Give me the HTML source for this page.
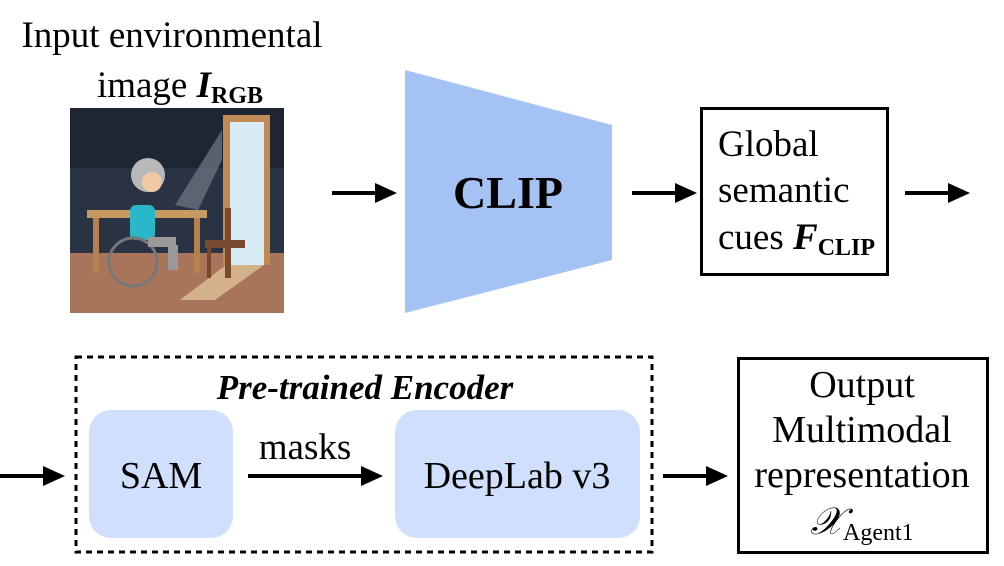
<!DOCTYPE html>
<html><head><meta charset="utf-8"><style>
body{margin:0;background:#fff;width:1004px;height:566px;overflow:hidden}
svg{display:block}
text{font-family:"Liberation Serif",serif;fill:#000}
</style></head><body>
<svg width="1004" height="566" viewBox="0 0 1004 566">
<text x="172" y="47" font-size="37" text-anchor="middle">Input environmental</text>
<text x="180" y="97" font-size="37" text-anchor="middle">image <tspan font-weight="bold" font-style="italic">I</tspan><tspan font-weight="bold" font-size="24" dy="6">RGB</tspan></text>
<g>
<rect x="70" y="108" width="214" height="205" fill="#2a3344"/>
<rect x="70" y="108" width="214" height="60" fill="#1e2533"/>
<rect x="70" y="253" width="214" height="60" fill="#a9755a"/>
<polygon points="222,130 175,205 198,210 222,160" fill="#6f7a85" opacity="0.7"/>
<polygon points="180,300 230,262 268,262 215,300" fill="#d3b28a"/>
<rect x="223" y="115" width="47" height="150" fill="#c08a55"/>
<rect x="230" y="122" width="34" height="143" fill="#d8ecf5"/>
<rect x="87" y="210" width="120" height="8" fill="#c89a63"/>
<rect x="93" y="218" width="6" height="55" fill="#b5824f"/>
<rect x="194" y="218" width="6" height="55" fill="#b5824f"/>
<rect x="205" y="240" width="40" height="8" fill="#7a4a30"/>
<rect x="225" y="208" width="6" height="70" fill="#7a4a30"/>
<rect x="207" y="248" width="4" height="30" fill="#7a4a30"/>
<circle cx="148" cy="175" r="17" fill="#b8b8b8"/>
<circle cx="152" cy="182" r="10" fill="#f2c9a5"/>
<rect x="130" y="205" width="25" height="35" rx="6" fill="#2ab7c9"/>
<circle cx="133" cy="262" r="24" fill="none" stroke="#777" stroke-width="3"/>
<rect x="148" y="237" width="28" height="10" fill="#999"/>
<rect x="168" y="245" width="10" height="25" fill="#999"/>
</g>
<g stroke="#000" stroke-width="4" fill="#000">
<line x1="332" y1="193" x2="378" y2="193"/><polygon points="375,183 397,193 375,203" stroke="none"/>
<line x1="632" y1="193" x2="678" y2="193"/><polygon points="675,183 697,193 675,203" stroke="none"/>
<line x1="905" y1="193" x2="951" y2="193"/><polygon points="948,183 970,193 948,203" stroke="none"/>
<line x1="0" y1="476" x2="46" y2="476"/><polygon points="43,466 65,476 43,486" stroke="none"/>
<line x1="248" y1="476" x2="364" y2="476"/><polygon points="361,466 383,476 361,486" stroke="none"/>
<line x1="663" y1="476" x2="709" y2="476"/><polygon points="706,466 728,476 706,486" stroke="none"/>
</g>
<polygon points="405,70 612,125 612,260 405,313" fill="#a4c2f4"/>
<text x="508" y="208" font-size="46" font-weight="bold" text-anchor="middle">CLIP</text>
<rect x="701.5" y="108.5" width="186" height="166" fill="none" stroke="#000" stroke-width="3"/>
<text x="718" y="156" font-size="37">Global</text>
<text x="718" y="202" font-size="37">semantic</text>
<text x="718" y="249" font-size="37">cues <tspan font-weight="bold" font-style="italic">F</tspan><tspan font-weight="bold" font-size="24" dy="6">CLIP</tspan></text>
<rect x="76" y="357" width="576" height="195" fill="none" stroke="#000" stroke-width="3" stroke-dasharray="6,5"/>
<text x="365" y="399" font-size="35" font-weight="bold" font-style="italic" text-anchor="middle">Pre-trained Encoder</text>
<rect x="89" y="410" width="144" height="128" rx="22" fill="#d0e0fc"/>
<text x="161" y="488" font-size="38" text-anchor="middle">SAM</text>
<text x="305" y="459" font-size="37" text-anchor="middle">masks</text>
<rect x="395" y="410" width="245" height="128" rx="22" fill="#d0e0fc"/>
<text x="517" y="488" font-size="38" text-anchor="middle">DeepLab v3</text>
<rect x="738.5" y="358.5" width="249" height="194" fill="none" stroke="#000" stroke-width="3"/>
<text x="862" y="397" font-size="38" text-anchor="middle">Output</text>
<text x="862" y="442" font-size="38" text-anchor="middle">Multimodal</text>
<text x="862" y="487" font-size="38" text-anchor="middle">representation</text>
<text x="862" y="534" font-size="38" text-anchor="middle"><tspan font-style="italic">𝒳</tspan><tspan font-size="24" dy="6">Agent1</tspan></text>
</svg>
</body></html>
